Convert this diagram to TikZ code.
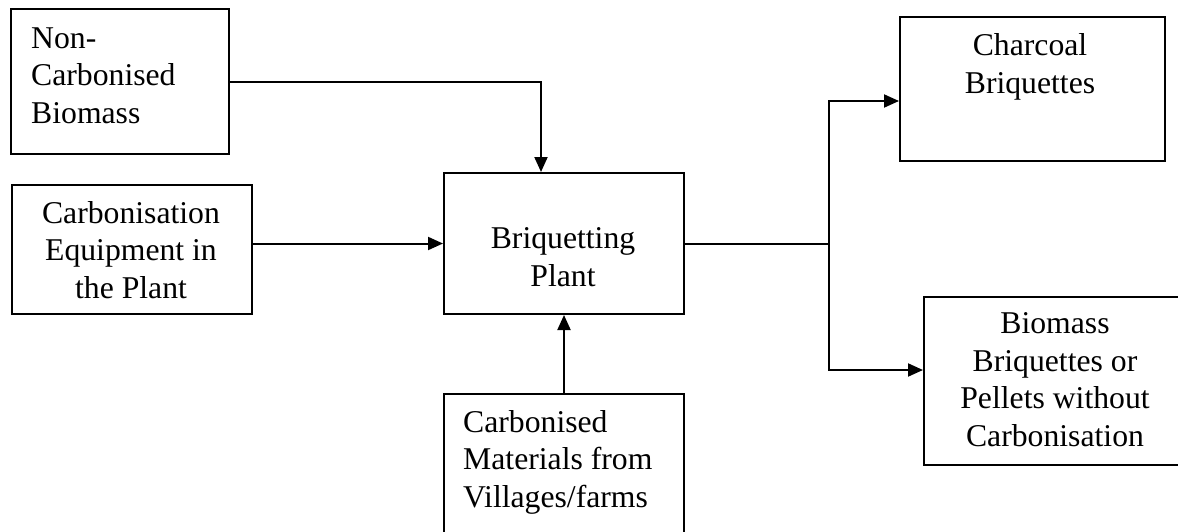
\documentclass[tikz,border=0pt]{standalone}
\usepackage{fontspec}
\setmainfont{Liberation Serif}
\usetikzlibrary{arrows.meta,calc}
\begin{document}
\begin{tikzpicture}[x=1pt,y=-1pt,
  box/.style={draw,line width=2pt,rectangle,inner sep=0pt,anchor=north west},
  txt/.style={font=\fontsize{31.7}{37.5}\selectfont,inner sep=0pt},
  arr/.style={line width=2pt,-{Triangle[length=15pt,width=13pt]}},
  ln/.style={line width=2pt}]
\clip (0,0) rectangle (1178,531);
\fill[white] (0,0) rectangle (1178,531);
% boxes
\node[box,minimum width=218pt,minimum height=145pt] (nc) at (10,8) {};
\node[box,minimum width=240pt,minimum height=129pt] (ce) at (11,184) {};
\node[box,minimum width=240pt,minimum height=141pt] (bp) at (443,172) {};
\node[box,minimum width=240pt,minimum height=170pt] (cm) at (443,393) {};
\node[box,minimum width=265pt,minimum height=144pt] (ch) at (899,16) {};
\node[box,minimum width=270pt,minimum height=168pt] (bm) at (923,296) {};
% texts (anchor base = baseline of the last line)
\node[txt,anchor=base west,align=left] at (31,123) {Non-\\Carbonised\\Biomass};
\node[txt,anchor=base,align=center] at (131,298) {Carbonisation\\Equipment in\\the Plant};
\node[txt,anchor=base,align=center] at (563,286) {Briquetting\\Plant};
\node[txt,anchor=base west,align=left] at (463,507) {Carbonised\\Materials from\\Villages/farms};
\node[txt,anchor=base,align=center] at (1030,93) {Charcoal\\Briquettes};
\node[txt,anchor=base,align=center] at (1055,446) {Biomass\\Briquettes or\\Pellets without\\Carbonisation};
% connectors
\draw[arr] (nc.east) -| ($(bp.north)+(-23,0)$);
\draw[arr] (ce.east |- bp.west) -- (bp.west);
\draw[arr] (cm.north) -- (bp.south);
\coordinate (br) at ($(bp.east)+(144,0)$);
\draw[ln] (bp.east) -- (br);
\draw[arr] (br) |- ([yshift=-12pt]ch.west);
\draw[arr] (br) |- ([yshift=11pt]bm.west);
\end{tikzpicture}
\end{document}
